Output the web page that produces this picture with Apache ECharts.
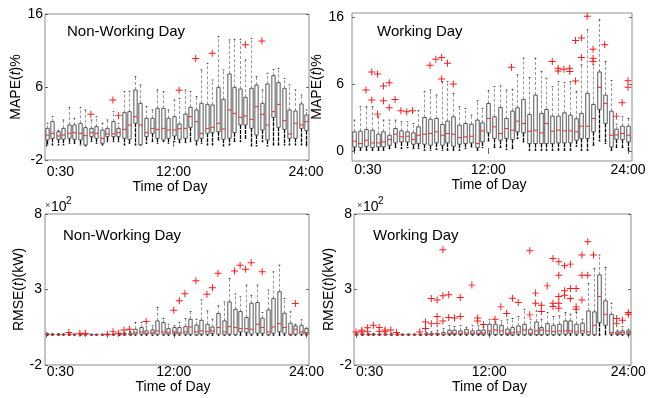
<!DOCTYPE html>
<html><head><meta charset="utf-8">
<script src="https://cdn.jsdelivr.net/npm/echarts@6/dist/echarts.min.js"></script>
<style>html,body{margin:0;padding:0;background:#fff}#c{width:661px;height:398px}</style>
</head><body><div id="c"></div>
<script>
// ---------- DATA ----------
const times = ['0:30','1:00','1:30','2:00','2:30','3:00','3:30','4:00','4:30','5:00','5:30','6:00',
 '6:30','7:00','7:30','8:00','8:30','9:00','9:30','10:00','10:30','11:00','11:30','12:00',
 '12:30','13:00','13:30','14:00','14:30','15:00','15:30','16:00','16:30','17:00','17:30','18:00',
 '18:30','19:00','19:30','20:00','20:30','21:00','21:30','22:00','22:30','23:00','23:30','24:00'];
const xTickIdx = [1, 24, 48];

// [lower whisker, Q1, median, Q3, upper whisker] per half hour
const mapeNonWorking = [
 [-0.15,0.47,1.08,1.9,2.52],[-0.15,0.67,1.29,2.73,3.34],[-0.15,0.55,0.96,1.49,1.62],[-0.15,0.55,1.08,1.9,2.93],
 [0.06,0.67,1.29,2.32,4.45],[0.06,0.55,1.37,2.32,3.14],[-0.15,0.47,1.29,2.52,4.45],[-0.27,-0.15,1.0,1.99,4.17],
 [0.26,0.88,1.37,1.9,2.93],[0.06,0.67,1.29,2.11,3.34],[-0.15,0.06,0.67,1.7,2.52],[0.26,0.88,1.21,1.9,2.93],
 [0.26,0.88,1.21,2.73,3.96],[0.26,0.88,1.37,1.9,2.52],[-0.15,0.67,1.78,3.84,6.43],[0.06,0.55,2.32,3.96,6.43],
 [-0.15,2.52,3.34,6.63,8.28],[-0.15,-0.15,2.32,4.99,7.25],[0.06,0.88,1.37,3.14,4.58],[0.26,1.29,1.9,3.14,4.17],
 [0.06,0.67,1.78,4.37,6.63],[0.26,0.47,1.9,4.37,6.43],[0.06,0.67,1.7,3.14,4.17],[0.26,0.96,1.7,3.34,5.4],
 [0.14,0.55,1.86,2.44,5.6],[0.14,0.67,1.9,3.67,6.63],[0.26,2.03,3.34,4.49,6.43],[-0.15,0.38,2.73,4.17,5.81],
 [0.06,0.67,1.29,4.99,9.1],[-0.15,1.29,1.9,4.86,9.92],[-0.15,1.37,2.03,4.78,7.86],[0.47,1.49,2.52,6.96,13.21],
 [-0.27,0.55,1.82,5.48,9.1],[-0.15,0.67,4.17,8.6,12.8],[0.26,1.37,3.75,6.96,12.88],[0.26,2.32,3.26,6.75,12.88],
 [0.67,2.32,3.43,5.73,10.33],[-0.27,1.9,3.01,6.84,13.0],[-0.27,1.08,4.58,7.25,8.28],[0.26,1.7,3.63,4.99,6.63],
 [-0.27,0.47,2.32,7.37,8.69],[-0.15,3.26,3.96,8.4,9.18],[-0.15,2.03,4.86,7.54,9.3],[-0.15,1.78,2.85,6.84,8.07],
 [-0.15,0.67,1.21,4.17,7.25],[-0.15,0.67,2.52,4.04,6.63],[-0.15,1.9,2.32,4.91,6.01],[-0.15,1.62,2.73,3.55,4.17]];
const mapeNonWorkingOutliers = [[9,3.63],[13,5.4],[14,3.47],[25,6.6],[28,10.5],[31,11.15],[37,12.22],[40,12.67]];

const mapeWorking = [
 [0.08,0.48,1.16,2.28,3.68],[0.08,0.4,0.88,2.36,5.28],[0.08,0.56,1.28,2.56,5.28],[0.08,0.4,0.96,2.48,5.28],
 [0.08,0.48,0.96,2.0,4.08],[0.08,0.48,1.08,2.28,3.68],[0.28,0.68,1.36,1.88,3.68],[0.4,0.96,2.0,2.68,3.68],
 [0.28,1.08,1.68,2.4,3.48],[0.4,1.08,1.76,2.28,3.48],[0.28,0.8,1.36,2.16,3.28],[0.28,0.88,1.88,2.88,4.8],
 [0.08,0.8,2.0,4.0,7.08],[0.08,0.68,2.08,3.8,7.28],[0.16,0.96,2.28,3.88,6.68],[0.08,0.68,1.88,3.16,8.28],
 [0.08,0.96,2.08,3.56,8.28],[0.08,0.56,2.0,4.08,6.88],[0.08,0.8,1.6,3.08,5.28],[0.28,0.88,1.68,3.28,5.08],
 [0.48,0.96,1.76,3.2,4.28],[0.08,0.4,0.88,3.68,6.0],[0.4,1.08,2.4,3.36,5.08],[1.2,2.16,3.88,5.68,7.2],
 [0.4,1.48,2.88,4.08,7.68],[0.4,1.28,2.08,5.2,7.76],[0.16,1.48,2.68,3.88,7.28],[0.28,1.36,2.48,4.76,7.36],
 [1.48,2.28,3.56,5.16,9.08],[1.08,2.16,3.28,6.16,11.08],[0.08,0.88,2.36,4.36,8.76],[0.08,0.88,2.48,6.68,11.08],
 [0.08,0.88,2.16,4.48,9.48],[0.08,0.88,3.28,4.96,8.68],[0.08,0.88,2.36,4.16,7.68],[0.08,0.96,2.48,4.16,8.28],
 [0.08,0.96,2.4,4.56,8.16],[0.08,0.96,2.4,4.28,8.28],[0.56,1.28,2.28,3.84,7.08],[0.08,1.48,2.96,4.48,10.28],
 [0.08,1.48,2.96,6.88,14.48],[0.68,2.28,3.88,5.56,10.28],[1.2,4.96,7.6,9.44,15.68],[0.88,3.28,5.68,6.68,10.68],
 [0.08,0.48,1.88,4.76,8.4],[0.4,1.4,1.9,2.6,3.2],[0.4,1.36,2.08,2.96,4.08],[0.08,1.08,1.88,2.96,3.88]];
const mapeWorkingOutliers = [[3,7.28],[4,9.44],[4,6.08],[5,9.2],[5,4.4],[6,7.76],[6,6.0],[7,8.16],[7,5.16],
 [8,6.16],[9,4.8],[10,4.68],[11,4.8],[14,10.24],[15,10.96],[16,11.16],[16,8.6],[17,10.48],[18,8.0],
 [28,10.0],[35,10.68],[36,9.88],[36,9.56],[37,9.76],[38,9.88],[38,9.48],[39,8.36],[39,13.2],[40,13.48],
 [40,11.16],[41,16.08],[42,12.16],[42,11.08],[42,10.68],[44,12.68],[46,4.16],[47,5.76],[48,8.4],[48,7.6]];

// RMSE in units of 10^2 kW
const rmseNonWorking = [
 [-0.03,0,0.03,0.06,0.1],[-0.03,0,0.02,0.05,0.08],[-0.03,0,0.02,0.05,0.08],[-0.03,0,0.02,0.04,0.06],
 [-0.03,0,0.02,0.04,0.06],[-0.03,0,0.02,0.04,0.06],[-0.03,0,0.02,0.04,0.06],[-0.03,0,0.01,0.03,0.05],
 [-0.03,0,0.01,0.03,0.05],[-0.03,0,0.01,0.03,0.05],[-0.03,0,0.01,0.03,0.05],[-0.03,0,0.01,0.03,0.05],
 [-0.03,0,0.02,0.04,0.08],[-0.03,0,0.02,0.05,0.1],[-0.03,0,0.03,0.08,0.15],[-0.03,0,0.04,0.1,0.2],
 [-0.03,0.04,0.14,0.37,0.81],[-0.03,0.04,0.19,0.48,0.81],[-0.03,0.04,0.1,0.26,0.52],[-0.03,0.04,0.14,0.32,0.59],
 [-0.03,0.04,0.26,0.92,1.81],[-0.03,0.04,0.19,0.81,1.08],[-0.03,0.04,0.14,0.41,0.7],[-0.03,0.04,0.19,0.48,0.6],
 [-0.03,0.04,0.14,0.48,0.81],[-0.03,0.04,0.19,0.54,1.08],[-0.03,0.04,0.52,1.03,1.54],[-0.03,0,0.19,0.65,1.03],
 [-0.03,0.04,0.26,0.96,2.31],[-0.03,0.04,0.21,0.7,1.58],[-0.03,0.1,0.26,0.52,1.03],[-0.03,0.04,0.48,1.41,1.92],
 [-0.03,0,0.19,0.92,2.18],[-0.03,0.04,0.54,2.18,3.73],[-0.03,0,0.48,1.69,2.7],[-0.03,0.19,0.41,1.54,2.51],
 [-0.03,0.14,0.41,1.14,3.29],[-0.03,0.04,0.37,2.09,2.6],[-0.03,0.1,0.7,2.14,3.29],[-0.03,0.1,0.48,1.1,1.47],
 [-0.03,0,0.19,1.65,2.96],[-0.03,0.1,0.52,2.4,4.17],[-0.03,0.19,0.74,2.85,4.61],[-0.03,0.1,0.48,1.43,2.4],
 [-0.03,0,0.04,0.77,1.52],[-0.03,0.04,0.37,0.59,0.7],[-0.03,0.04,0.19,0.63,0.99],[-0.03,0.04,0.14,0.41,0.45]];
const rmseNonWorkingOutliers = [[5,0.15],[7,0.1],[8,0.08],[12,0.04],[13,0.21],[14,0.1],[15,0.32],[16,0.37],
 [19,0.88],[24,1.63],[25,2.25],[26,2.72],[28,3.58],[30,2.69],[31,3.12],[32,4.08],[35,4.22],[36,4.6],
 [37,4.34],[38,4.77],[40,4.18],[46,2.07]];

const rmseWorking = [
 [-0.03,0,0.02,0.05,0.1],[-0.03,0,0.02,0.05,0.1],[-0.03,0,0.02,0.05,0.1],[-0.03,0,0.02,0.05,0.1],
 [-0.03,0,0.02,0.04,0.08],[-0.03,0,0.02,0.04,0.08],[-0.03,0,0.02,0.04,0.08],[-0.03,0,0.02,0.04,0.08],
 [-0.03,0,0.01,0.03,0.06],[-0.03,0,0.01,0.03,0.06],[-0.03,0,0.01,0.03,0.06],[-0.03,0,0.01,0.03,0.06],
 [-0.03,0,0.03,0.07,0.15],[-0.03,0,0.03,0.08,0.2],[-0.03,0,0.04,0.1,0.3],[-0.03,0,0.04,0.15,0.4],
 [-0.03,0.02,0.1,0.3,0.6],[-0.03,0.02,0.1,0.3,0.55],[-0.03,0.02,0.1,0.26,0.6],[-0.03,0.02,0.12,0.35,0.5],
 [-0.03,0.02,0.1,0.26,0.6],[-0.03,0.02,0.1,0.3,0.59],[-0.03,0.02,0.12,0.32,0.5],[-0.03,0.04,0.26,0.7,1.0],
 [-0.03,0.02,0.32,0.7,0.85],[-0.03,0.02,0.26,0.63,0.92],[-0.03,0,0.1,0.37,0.99],[-0.03,0,0.14,0.48,1.08],
 [-0.03,0.04,0.19,0.59,1.21],[-0.03,0,0.32,0.7,1.69],[-0.03,0,0.1,0.37,1.03],[-0.03,0,0.26,0.85,1.58],
 [-0.03,0,0.32,0.48,1.03],[-0.03,0,0.26,0.74,1.47],[-0.03,0,0.21,0.63,1.21],[-0.03,0.04,0.26,0.7,1.25],
 [-0.03,0.04,0.26,0.92,1.47],[-0.03,0.1,0.26,0.92,1.36],[-0.03,0.04,0.19,0.7,1.47],[-0.03,0.1,0.26,0.77,1.03],
 [-0.03,0,0.19,1.58,3.4],[-0.03,0,0.63,1.52,4.4],[-0.03,0.8,2.54,3.97,5.28],[0,0.63,1.36,2.25,4.46],
 [-0.03,0.04,0.14,1.36,2.09],[-0.03,0.02,0.1,0.19,0.3],[-0.03,0.02,0.14,0.26,0.54],[-0.03,0.02,0.14,0.26,0.37]];
const rmseWorkingOutliers = [[1,0.19],[2,0.3],[2,0.19],[3,0.46],[3,0.21],[4,0.63],[5,0.48],[5,0.21],[6,0.32],
 [6,0.2],[7,0.32],[8,0.15],[12,0.19],[13,0.85],[13,0.41],[14,2.4],[14,0.74],[15,2.31],[15,1.21],[15,0.74],
 [16,5.63],[16,2.58],[16,0.92],[17,2.65],[17,1.14],[18,1.12],[19,2.47],[19,1.21],[21,3.29],[22,1.12],
 [22,0.92],[23,0.68],[25,1.03],[26,1.85],[27,1.41],[28,2.42],[29,2.14],[31,5.57],[31,1.32],[32,2.76],
 [32,2.09],[33,1.96],[33,1.54],[34,3.24],[35,5.06],[35,2.09],[35,1.87],[36,4.84],[36,3.95],[36,2.54],
 [36,2.09],[36,1.76],[37,4.57],[37,2.91],[37,2.62],[38,4.68],[38,3.07],[38,2.4],[39,3.07],[39,1.85],
 [39,1.69],[40,5.28],[40,3.95],[40,2.31],[41,6.16],[41,3.95],[42,5.28],[46,1.08],[46,0.74],[47,0.96],
 [48,1.47],[48,1.36]];

// y tick positions and the labels printed at them
const mapeNWTickPos = [-2, 7, 16],  mapeNWTickText = ['-2','6','16'];
const mapeWTickPos  = [0, 8, 16],   mapeWTickText  = ['0','6','16'];
const rmseTickPos   = [-2, 3, 8],   rmseTickText   = ['-2','3','8'];
const titles = ['Non-Working Day','Working Day','Non-Working Day','Working Day'];

// ---------- LAYOUT ----------
const FONT = 'Liberation Sans, Arial, Helvetica, sans-serif';
const panels = [
 {grid:{left:45,top:14,width:264,height:146}, x:[0.692,48.54], y:[-2,16], tp:mapeNWTickPos, tt:mapeNWTickText,
  box:mapeNonWorking, out:mapeNonWorkingOutliers, yname:'{n|MAPE(}{i|t}{n|)%}', ygap:16, ylm:2, xlm:5, xgap:15, xpad:14, title:[67,24]},
 {grid:{left:352,top:13,width:280,height:148}, x:[0.605,48.69], y:[-1.2,16.48], tp:mapeWTickPos, tt:mapeWTickText,
  box:mapeWorking, out:mapeWorkingOutliers, yname:'{n|MAPE(}{i|t}{n|)%}', ygap:13, ylm:8, xlm:2, xgap:17, xpad:6, title:[377,24]},
 {grid:{left:45,top:214,width:264,height:151}, x:[0.693,48.47], y:[-2,8], tp:rmseTickPos, tt:rmseTickText,
  box:rmseNonWorking, out:rmseNonWorkingOutliers, yname:'{n|RMSE(}{i|t}{n|)(kW)}', ygap:14, ylm:3, xlm:0, xgap:11, xpad:8, title:[63,228]},
 {grid:{left:354,top:214,width:277,height:151}, x:[0.654,48.47], y:[-2,8], tp:rmseTickPos, tt:rmseTickText,
  box:rmseWorking, out:rmseWorkingOutliers, yname:'{n|RMSE(}{i|t}{n|)(kW)}', ygap:14, ylm:2, xlm:0, xgap:13, xpad:6, title:[373,228]}
];

function renderBox(params, api) {
  const x = api.value(0);
  const lo = api.coord([x, api.value(1)]);
  const q1 = api.coord([x, api.value(2)]);
  const md = api.coord([x, api.value(3)]);
  const q3 = api.coord([x, api.value(4)]);
  const hi = api.coord([x, api.value(5)]);
  const w = api.size([1, 0])[0] * 0.6;
  const cx = Math.round(q1[0]) + 0.5;
  const hw = w / 2;
  return {type:'group', children:[
    {type:'line', shape:{x1:cx,y1:q3[1],x2:cx,y2:hi[1]}, style:{stroke:'#999',lineWidth:1,lineDash:[3,2]}},
    {type:'line', shape:{x1:cx,y1:q1[1],x2:cx,y2:lo[1]}, style:{stroke:'#000',lineWidth:1.3,lineDash:[4,1]}},
    {type:'line', shape:{x1:cx-hw/2,y1:hi[1],x2:cx+hw/2,y2:hi[1]}, style:{stroke:'#333',lineWidth:1}},
    {type:'line', shape:{x1:cx-hw/2,y1:lo[1],x2:cx+hw/2,y2:lo[1]}, style:{stroke:'#000',lineWidth:1}},
    {type:'rect', shape:{x:cx-hw,y:q3[1],width:w,height:q1[1]-q3[1]}, style:{fill:'none',stroke:'#555',lineWidth:1}},
    {type:'line', shape:{x1:cx-hw,y1:md[1],x2:cx+hw,y2:md[1]}, style:{stroke:'#ff2020',lineWidth:1}}
  ]};
}

const plus = 'path://M4.3,0H5.7V4.3H10V5.7H5.7V10H4.3V5.7H0V4.3H4.3Z';
const grid = [], xAxis = [], yAxis = [], series = [], title = [];
panels.forEach((p, i) => {
  grid.push(Object.assign({show:true, borderColor:'#8c8c8c', borderWidth:1, containLabel:false}, p.grid));
  const tickStyle = {show:true, inside:true, length:3, lineStyle:{color:'#666'}};
  xAxis.push({type:'value', gridIndex:i, min:p.x[0], max:p.x[1], position:'bottom',
    axisLine:{show:false}, splitLine:{show:false},
    axisTick:Object.assign({customValues:xTickIdx}, tickStyle),
    axisLabel:{customValues:xTickIdx, formatter:v => times[Math.round(v) - 1], color:'#000', fontSize:14,
      fontFamily:FONT, margin:p.xlm, alignMinLabel:'left'},
    name:'Time of Day', nameLocation:'middle', nameGap:p.xgap,
    nameTextStyle:{color:'#000', fontSize:14, fontFamily:FONT, padding:[0, p.xpad, 0, 0], verticalAlign:'top'}});
  xAxis.push({type:'value', gridIndex:i, min:p.x[0], max:p.x[1], position:'top',
    axisLine:{show:false}, splitLine:{show:false}, axisLabel:{show:false},
    axisTick:Object.assign({customValues:xTickIdx}, tickStyle)});
  yAxis.push({type:'value', gridIndex:i, min:p.y[0], max:p.y[1], position:'left',
    axisLine:{show:false}, splitLine:{show:false},
    axisTick:Object.assign({customValues:p.tp}, tickStyle),
    axisLabel:{customValues:p.tp, formatter:v => p.tt[p.tp.indexOf(v)], color:'#000', fontSize:14,
      fontFamily:FONT, margin:p.ylm},
    name:p.yname, nameLocation:'middle', nameGap:p.ygap, nameRotate:90,
    nameTextStyle:{color:'#000', fontFamily:FONT, rich:{n:{fontSize:14, fontFamily:FONT, color:'#000'},
      i:{fontSize:14, fontStyle:'italic', fontFamily:FONT, color:'#000'}}}});
  yAxis.push({type:'value', gridIndex:i, min:p.y[0], max:p.y[1], position:'right',
    axisLine:{show:false}, splitLine:{show:false}, axisLabel:{show:false},
    axisTick:Object.assign({customValues:p.tp}, tickStyle)});
  series.push({type:'custom', xAxisIndex:2*i, yAxisIndex:2*i, renderItem:renderBox, silent:true,
    encode:{x:0, y:[1,2,3,4,5]},
    data:p.box.map((b, k) => [k + 1].concat(b))});
  series.push({type:'scatter', xAxisIndex:2*i, yAxisIndex:2*i, symbol:plus, symbolSize:7, silent:true,
    itemStyle:{color:'#ff1a1a', opacity:1}, data:p.out});
  title.push({text:titles[i], left:p.title[0], top:p.title[1], padding:0,
    textStyle:{fontSize:15, fontWeight:'normal', color:'#000', fontFamily:FONT}});
});

const chart = echarts.init(document.getElementById('c'), null, {renderer:'canvas'});
chart.setOption({
  animation:false, backgroundColor:'#fff',
  title, grid, xAxis, yAxis, series,
  graphic:[
    {type:'text', x:45, y:206, style:{text:'×', font:'9px '+FONT, fill:'#444', textVerticalAlign:'middle'}},
    {type:'text', x:51, y:207, style:{text:'10', font:'14px '+FONT, fill:'#000', textVerticalAlign:'middle'}},
    {type:'text', x:66, y:201, style:{text:'2', font:'10px '+FONT, fill:'#000', textVerticalAlign:'middle'}},
    {type:'text', x:357, y:206, style:{text:'×', font:'9px '+FONT, fill:'#444', textVerticalAlign:'middle'}},
    {type:'text', x:363, y:207, style:{text:'10', font:'14px '+FONT, fill:'#000', textVerticalAlign:'middle'}},
    {type:'text', x:378, y:201, style:{text:'2', font:'10px '+FONT, fill:'#000', textVerticalAlign:'middle'}}
  ]
});
</script></body></html>
